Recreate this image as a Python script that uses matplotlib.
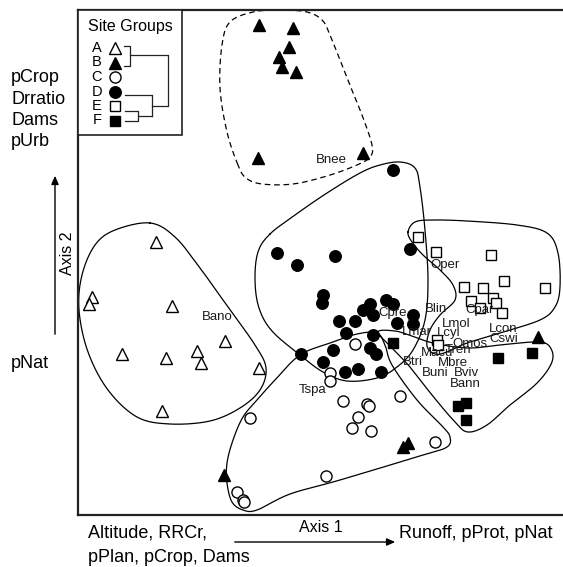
import numpy as np
import matplotlib
matplotlib.use("Agg")
import matplotlib.pyplot as plt
from matplotlib.lines import Line2D
from matplotlib.patches import Rectangle, FancyArrowPatch

plt.rcParams['font.family'] = ['Liberation Sans', 'DejaVu Sans']

# ---------------- data (ordination scores, arbitrary units) ----------------
groups = ["A", "B", "C", "D", "E", "F"]

A_x = [78, 14, 11, 94, 147, 44, 88, 119, 123, 181, 84]
A_y = [273, 218, 211, 209, 174, 161, 157, 164, 152, 147, 104]

B_x = [181, 215, 211, 201, 204, 218, 180, 285, 460, 330, 325, 146]
B_y = [490, 487, 468, 458, 448, 443, 357, 362, 178, 72, 68, 40]

C_x = [277, 252, 252, 265, 289, 291, 280, 274, 293, 322, 172, 357, 248, 159, 165, 166]
C_y = [171, 142, 134, 114, 111, 109, 98, 87, 84, 119, 97, 73, 39, 23, 15, 13]

D_x = [315, 199, 219, 257, 332, 245, 244, 308, 315, 292, 285, 295, 335, 335,
       319, 277, 261, 268, 295, 255, 223, 245, 292, 298, 267, 280, 303]
D_y = [345, 262, 250, 259, 266, 220, 212, 215, 211, 211, 205, 200, 200, 191,
       192, 194, 194, 182, 180, 165, 161, 153, 167, 161, 143, 146, 143]

E_x = [340, 358, 413, 467, 386, 405, 426, 393, 402, 415, 418, 424, 359, 360]
E_y = [278, 263, 260, 227, 228, 227, 234, 214, 207, 217, 212, 202, 175, 170]

F_x = [315, 420, 454, 380, 388, 388]
F_y = [172, 157, 162, 109, 112, 95]

species = ["Bnee", "Bano", "Oper", "Blin", "Cpre", "Cpar", "Lmol", "Lmar", "Lcyl",
           "Lcon", "Cswi", "Omos", "Tren", "Macu", "Btri", "Mbre", "Buni", "Bviv",
           "Bann", "Tspa"]
species_x = [253, 139, 367, 358, 315, 402, 378, 339, 371, 425, 426, 392, 380, 359,
             335, 375, 357, 388, 387, 235]
species_y = [355, 198, 250, 206, 202, 205, 191, 183, 182, 186, 176, 171, 165, 162,
             153, 152, 142, 142, 131, 125]

# group envelopes (outline vertices)
hull_A = [(72, 292), (37, 285), (17, 270), (4, 240), (1, 205), (10, 163), (30, 125),
          (59, 98), (92, 91), (132, 94), (162, 107), (182, 125), (188, 147),
          (177, 170), (150, 208), (122, 247), (97, 278)]
hull_B = [(160, 350), (149, 383), (142, 427), (144, 470), (152, 493), (175, 503),
          (202, 505), (229, 503), (244, 495), (252, 480), (269, 437), (284, 400),
          (294, 370), (292, 358), (279, 350), (249, 339), (215, 331), (184, 331),
          (168, 337)]
hull_C = [(222, 160), (252, 172), (279, 181), (299, 182), (307, 170), (314, 150),
          (339, 115), (365, 88), (372, 78), (369, 68), (345, 60), (262, 35),
          (212, 21), (179, 5), (165, 5), (154, 13), (149, 32), (149, 52),
          (155, 75), (165, 98), (179, 115), (197, 135)]
hull_D = [(192, 281), (180, 263), (177, 235), (181, 207), (194, 184), (222, 160),
          (245, 143), (269, 134), (299, 137), (319, 148), (335, 165), (347, 195),
          (350, 235), (347, 285), (342, 328), (337, 347), (322, 353), (302, 350),
          (282, 342), (249, 322), (217, 300)]
hull_E = [(330, 283), (337, 293), (355, 295), (389, 294), (439, 290), (469, 282),
          (480, 262), (482, 228), (477, 208), (462, 195), (422, 182), (389, 172),
          (369, 163), (357, 161), (349, 169), (352, 185), (362, 200), (377, 215),
          (375, 230), (362, 245), (345, 260), (334, 273)]
hull_F = [(300, 183), (317, 184), (334, 179), (355, 172), (389, 167), (422, 170),
          (455, 173), (469, 171), (475, 160), (471, 147), (457, 130), (432, 110),
          (409, 90), (390, 83), (377, 93), (354, 120), (332, 148), (314, 167)]

# ---------------- helpers ----------------
W, H = 563, 567


def fx(px):
    return px / W


def fy(py):
    return 1 - py / H


def smooth_closed(pts, n=24):
    P = np.asarray(pts, float)
    N = len(P)
    t = np.linspace(0, 1, n, endpoint=False)[:, None]
    out = []
    for i in range(N):
        p0, p1, p2, p3 = P[(i - 1) % N], P[i], P[(i + 1) % N], P[(i + 2) % N]
        out.append(0.5 * ((2 * p1) + (-p0 + p2) * t
                          + (2 * p0 - 5 * p1 + 4 * p2 - p3) * t ** 2
                          + (-p0 + 3 * p1 - 3 * p2 + p3) * t ** 3))
    out = np.vstack(out)
    return np.vstack([out, out[:1]])


styles = {
    "A": dict(marker='^', mfc='white', mec='black', ms=8.3),
    "B": dict(marker='^', mfc='black', mec='black', ms=8.3),
    "C": dict(marker='o', mfc='white', mec='black', ms=8.0),
    "D": dict(marker='o', mfc='black', mec='black', ms=8.3),
    "E": dict(marker='s', mfc='white', mec='black', ms=7.3),
    "F": dict(marker='s', mfc='black', mec='black', ms=7.3),
}

# ---------------- figure ----------------
fig = plt.figure(figsize=(W / 100, H / 100), dpi=100)
ax = fig.add_axes([fx(78), fy(515), fx(563) - fx(78), fy(10) - fy(515)])
ax.set_xlim(0, 485)
ax.set_ylim(0, 505)
ax.set_xticks([])
ax.set_yticks([])
for s in ['left', 'top', 'bottom']:
    ax.spines[s].set_linewidth(1.6)
    ax.spines[s].set_color('#222222')
ax.spines['right'].set_visible(False)

for hull in [hull_A, hull_C, hull_D, hull_E, hull_F]:
    c = smooth_closed(hull)
    ax.plot(c[:, 0], c[:, 1], color='black', lw=0.9, zorder=2)
cb = smooth_closed(hull_B)
ax.plot(cb[:, 0], cb[:, 1], color='black', lw=0.9, ls=(0, (4.5, 3)), zorder=2)

data = {"A": (A_x, A_y), "B": (B_x, B_y), "C": (C_x, C_y),
        "D": (D_x, D_y), "E": (E_x, E_y), "F": (F_x, F_y)}
for g in groups:
    xs, ys = data[g]
    ax.plot(xs, ys, ls='none', mew=1.0, zorder=3, **styles[g])

for name, x, y in zip(species, species_x, species_y):
    ax.text(x, y, name, fontsize=9.5, ha='center', va='center',
            color='#1a1a1a', zorder=4)

# ---------------- legend box with dendrogram ----------------
fig.add_artist(Rectangle((fx(78), fy(135)), fx(182) - fx(78), fy(10) - fy(135),
                         transform=fig.transFigure, facecolor='white',
                         edgecolor='#222222', lw=1.2, zorder=5))
fig.text(fx(130), fy(27), "Site Groups", fontsize=11.5, ha='center',
         va='center', zorder=6)
row_y = [48, 62.5, 77, 91.5, 106, 120.5]
for g, yy in zip(groups, row_y):
    fig.text(fx(97), fy(yy), g, fontsize=10.5, ha='center', va='center',
             zorder=6)
    fig.add_artist(Line2D([fx(115)], [fy(yy)], transform=fig.transFigure,
                          ls='none', mew=1.0, zorder=6, **styles[g]))


def fline(xs, ys):
    fig.add_artist(Line2D([fx(v) for v in xs], [fy(v) for v in ys],
                          transform=fig.transFigure, color='#222222', lw=0.9,
                          zorder=6))


yA, yB, yC, yD, yE, yF = row_y
fline([124, 130, 130, 124], [yA - 2, yA - 2, yB + 3, yB + 3])
fline([130, 168, 168, 152], [(yA + yB) / 2, (yA + yB) / 2, 106, 106])
fline([125, 152, 152], [yD + 3, yD + 3, 116])
fline([125, 138, 138, 125], [yE + 5, yE + 5, yF, yF])
fline([138, 152], [116, 116])

# ---------------- axis annotations ----------------
fs = 13
fig.text(fx(11), fy(78), "pCrop", fontsize=fs, ha='left', va='center')
fig.text(fx(11), fy(99), "Drratio", fontsize=fs, ha='left', va='center')
fig.text(fx(11), fy(121), "Dams", fontsize=fs, ha='left', va='center')
fig.text(fx(11), fy(142), "pUrb", fontsize=fs, ha='left', va='center')
fig.text(fx(11), fy(363), "pNat", fontsize=fs, ha='left', va='center')
fig.text(fx(67), fy(253), "Axis 2", fontsize=11.5, ha='center', va='center',
         rotation=90)
fig.add_artist(FancyArrowPatch(
    (fx(55), fy(337)), (fx(55), fy(173)), transform=fig.transFigure,
    arrowstyle='-|>,head_length=5,head_width=2.2', color='black', lw=1.0,
    mutation_scale=1))

fig.text(fx(88), fy(533), "Altitude, RRCr,", fontsize=fs, ha='left',
         va='center')
fig.text(fx(88), fy(557), "pPlan, pCrop, Dams", fontsize=fs, ha='left',
         va='center')
fig.text(fx(321), fy(528), "Axis 1", fontsize=11.5, ha='center', va='center')
fig.text(fx(399), fy(533), "Runoff, pProt, pNat", fontsize=fs, ha='left',
         va='center')
fig.add_artist(FancyArrowPatch(
    (fx(232), fy(542)), (fx(398), fy(542)), transform=fig.transFigure,
    arrowstyle='-|>,head_length=5,head_width=2.2', color='black', lw=1.0,
    mutation_scale=1))

fig.savefig("out.png", dpi=100)
